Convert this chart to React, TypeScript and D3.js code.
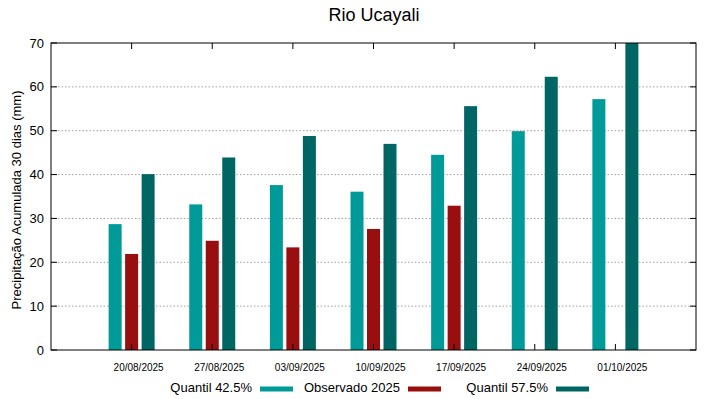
import React, { useEffect, useRef } from 'react';
import * as d3 from 'd3';

const categories = ['20/08/2025', '27/08/2025', '03/09/2025', '10/09/2025', '17/09/2025', '24/09/2025', '01/10/2025'];
const q425 = [28.7, 33.2, 37.6, 36.1, 44.5, 49.9, 57.2];
const observado = [21.9, 24.9, 23.4, 27.6, 32.9, null, null];
const q575 = [40.1, 43.9, 48.8, 47.0, 55.6, 62.3, 70.5];
const yTicks = [0, 10, 20, 30, 40, 50, 60, 70];

const series = [
  { name: 'Quantil 42.5%', values: q425, color: '#009a98', offset: -16.5 },
  { name: 'Observado 2025', values: observado, color: '#990e0e', offset: 0 },
  { name: 'Quantil 57.5%', values: q575, color: '#006663', offset: 16.5 },
];

const W = 719, H = 399;
const left = 51, right = 696, top = 43, bottom = 350;

const App = () => {
  const svgRef = useRef(null);

  useEffect(() => {
    const svg = d3.select(svgRef.current);
    svg.selectAll('*').remove();

    const x = d3.scaleLinear().domain([-1, categories.length]).range([left, right]);
    const y = d3.scaleLinear().domain([0, 70]).range([bottom, top]);
    const font = 'Liberation Sans, Arial, sans-serif';

    // grid
    svg.append('g').selectAll('line')
      .data(yTicks.slice(1, -1))
      .join('line')
      .attr('x1', left).attr('x2', right)
      .attr('y1', d => y(d)).attr('y2', d => y(d))
      .attr('stroke', '#a0a0a0')
      .attr('stroke-width', 1)
      .attr('stroke-dasharray', '1.5,2');

    // bars
    svg.append('clipPath').attr('id', 'plotclip')
      .append('rect').attr('x', left).attr('y', top).attr('width', right - left).attr('height', bottom - top);

    const barW = 13;
    series.forEach(s => {
      svg.append('g').attr('clip-path', 'url(#plotclip)')
        .selectAll('rect')
        .data(s.values.map((v, i) => ({ v, i })).filter(d => d.v != null))
        .join('rect')
        .attr('x', d => x(d.i) + s.offset - barW / 2)
        .attr('y', d => y(d.v))
        .attr('width', barW)
        .attr('height', d => bottom - y(d.v))
        .attr('fill', s.color);
    });

    // frame
    svg.append('rect')
      .attr('x', left).attr('y', top)
      .attr('width', right - left).attr('height', bottom - top)
      .attr('fill', 'none').attr('stroke', '#000').attr('stroke-width', 1);

    // y ticks both sides
    const yt = svg.append('g');
    yTicks.forEach(t => {
      yt.append('line').attr('x1', left).attr('x2', left + 6).attr('y1', y(t)).attr('y2', y(t)).attr('stroke', '#000');
      yt.append('line').attr('x1', right).attr('x2', right - 6).attr('y1', y(t)).attr('y2', y(t)).attr('stroke', '#000');
      yt.append('text')
        .attr('x', left - 7).attr('y', y(t))
        .attr('text-anchor', 'end')
        .attr('dominant-baseline', 'central')
        .style('font-family', font).style('font-size', '13px')
        .text(t);
    });

    // x ticks top and bottom
    const xt = svg.append('g');
    categories.forEach((c, i) => {
      xt.append('line').attr('x1', x(i)).attr('x2', x(i)).attr('y1', bottom).attr('y2', bottom - 6).attr('stroke', '#000');
      xt.append('line').attr('x1', x(i)).attr('x2', x(i)).attr('y1', top).attr('y2', top + 6).attr('stroke', '#000');
      xt.append('text')
        .attr('x', x(i) + 7).attr('y', 367)
        .attr('text-anchor', 'middle')
        .attr('dominant-baseline', 'central')
        .style('font-family', font).style('font-size', '10px')
        .text(c);
    });

    // title
    svg.append('text')
      .attr('x', 374).attr('y', 15)
      .attr('text-anchor', 'middle').attr('dominant-baseline', 'central')
      .style('font-family', font).style('font-size', '18px')
      .text('Rio Ucayali');

    // y label
    svg.append('text')
      .attr('transform', `translate(16, 200) rotate(-90)`)
      .attr('text-anchor', 'middle').attr('dominant-baseline', 'central')
      .style('font-family', font).style('font-size', '13px')
      .text('Precipitação Acumulada 30 dias (mm)');

    // legend
    const legendEnds = [252, 400, 548];
    series.forEach((s, i) => {
      const ex = legendEnds[i];
      svg.append('text')
        .attr('x', ex).attr('y', 387)
        .attr('text-anchor', 'end').attr('dominant-baseline', 'central')
        .style('font-family', font).style('font-size', '13px')
        .text(s.name);
      svg.append('line')
        .attr('x1', ex + 8).attr('x2', ex + 41)
        .attr('y1', 389).attr('y2', 389)
        .attr('stroke', s.color).attr('stroke-width', 5);
    });
  }, []);

  return (
    <svg ref={svgRef} width={W} height={H} viewBox={`0 0 ${W} ${H}`}
      style={{ position: 'absolute', left: 0, top: 0, background: '#fff' }} />
  );
};

export default App;
